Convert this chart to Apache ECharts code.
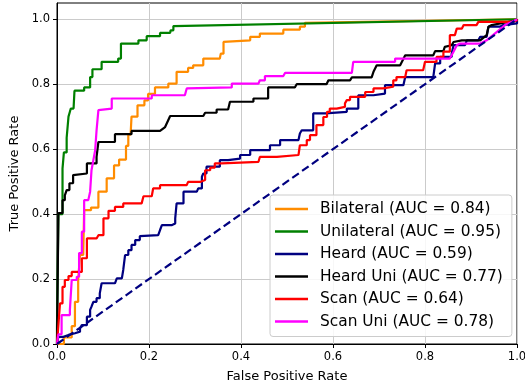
<!DOCTYPE html>
<html><head><meta charset="utf-8">
<script src="https://cdn.jsdelivr.net/npm/echarts@6/dist/echarts.min.js"></script>
<style>html,body{margin:0;padding:0;background:#fff}#c{width:525px;height:385px}</style>
</head><body><div id="c"></div>
<script>
// ---- data ----
const seriesLabels = ['Bilateral', 'Unilateral', 'Heard', 'Heard Uni', 'Scan', 'Scan Uni'];
const aucValues = ['0.84', '0.95', '0.59', '0.77', '0.64', '0.78'];
const xTicks = [0, 0.2, 0.4, 0.6, 0.8, 1.0];
const yTicks = [0, 0.2, 0.4, 0.6, 0.8, 1.0];

const bilateral = [[0,0],[0.015,0],[0.015,0.02],[0.032,0.02],[0.032,0.055],[0.039,0.055],[0.039,0.13],[0.046,0.13],[0.046,0.197],[0.05,0.197],[0.05,0.274],[0.057,0.274],[0.059,0.412],[0.074,0.412],[0.074,0.42],[0.09,0.42],[0.09,0.469],[0.108,0.469],[0.108,0.51],[0.124,0.51],[0.124,0.55],[0.135,0.55],[0.135,0.568],[0.150,0.568],[0.150,0.61],[0.155,0.61],[0.155,0.645],[0.160,0.645],[0.162,0.70],[0.175,0.70],[0.175,0.735],[0.184,0.735],[0.19,0.735],[0.19,0.75],[0.198,0.75],[0.198,0.77],[0.213,0.77],[0.213,0.79],[0.242,0.79],[0.242,0.802],[0.26,0.802],[0.26,0.838],[0.285,0.838],[0.285,0.85],[0.296,0.85],[0.296,0.858],[0.318,0.858],[0.318,0.879],[0.354,0.879],[0.356,0.894],[0.362,0.894],[0.362,0.93],[0.365,0.935],[0.42,0.935],[0.42,0.946],[0.441,0.946],[0.441,0.956],[0.492,0.956],[0.492,0.968],[0.528,0.968],[0.528,0.977],[0.539,0.977],[0.539,0.989],[1,1]];

const unilateral = [[0,0],[0,0.05],[0.003,0.05],[0.003,0.40],[0.012,0.40],[0.012,0.54],[0.015,0.54],[0.015,0.59],[0.021,0.59],[0.021,0.635],[0.025,0.635],[0.025,0.70],[0.028,0.70],[0.028,0.715],[0.030,0.715],[0.030,0.725],[0.036,0.725],[0.038,0.78],[0.059,0.78],[0.059,0.79],[0.072,0.79],[0.072,0.822],[0.077,0.822],[0.077,0.846],[0.097,0.846],[0.097,0.869],[0.133,0.869],[0.133,0.879],[0.139,0.879],[0.139,0.925],[0.177,0.925],[0.177,0.935],[0.195,0.935],[0.195,0.948],[0.224,0.948],[0.224,0.958],[0.246,0.958],[0.247,0.966],[0.253,0.966],[0.253,0.979],[1,1]];

const heard = [[0,0],[0.003,0],[0.003,0.022],[0.014,0.022],[0.014,0.028],[0.025,0.028],[0.025,0.033],[0.039,0.033],[0.039,0.038],[0.05,0.048],[0.054,0.058],[0.065,0.084],[0.068,0.084],[0.072,0.105],[0.075,0.115],[0.079,0.13],[0.086,0.141],[0.093,0.156],[0.097,0.187],[0.126,0.192],[0.13,0.202],[0.141,0.207],[0.144,0.228],[0.148,0.274],[0.155,0.289],[0.162,0.305],[0.17,0.32],[0.18,0.332],[0.184,0.335],[0.22,0.341],[0.224,0.351],[0.228,0.366],[0.249,0.371],[0.257,0.387],[0.26,0.433],[0.275,0.469],[0.304,0.469],[0.307,0.479],[0.315,0.515],[0.318,0.525],[0.325,0.546],[0.354,0.566],[0.372,0.571],[0.398,0.582],[0.42,0.597],[0.463,0.612],[0.485,0.628],[0.525,0.628],[0.528,0.648],[0.532,0.658],[0.557,0.658],[0.557,0.71],[0.583,0.715],[0.63,0.725],[0.655,0.746],[0.655,0.766],[0.688,0.771],[0.713,0.797],[0.753,0.797],[0.757,0.822],[0.818,0.822],[0.822,0.864],[0.833,0.884],[0.858,0.894],[0.862,0.92],[0.887,0.925],[0.891,0.935],[0.916,0.935],[0.92,0.946],[0.934,0.948],[0.938,0.977],[0.963,0.982],[0.97,0.987],[1,1]];

const heardUni = [[0,0],[0.003,0],[0.003,0.403],[0.012,0.403],[0.012,0.443],[0.017,0.443],[0.017,0.458],[0.021,0.458],[0.021,0.474],[0.027,0.474],[0.027,0.495],[0.035,0.495],[0.035,0.52],[0.039,0.52],[0.039,0.525],[0.065,0.525],[0.065,0.556],[0.086,0.556],[0.086,0.576],[0.09,0.576],[0.09,0.622],[0.126,0.622],[0.126,0.646],[0.162,0.646],[0.162,0.656],[0.224,0.656],[0.235,0.668],[0.246,0.702],[0.318,0.702],[0.322,0.712],[0.347,0.712],[0.347,0.722],[0.372,0.722],[0.376,0.746],[0.427,0.746],[0.427,0.756],[0.459,0.756],[0.459,0.79],[0.517,0.79],[0.521,0.80],[0.586,0.80],[0.59,0.812],[0.637,0.812],[0.641,0.821],[0.684,0.821],[0.688,0.838],[0.695,0.858],[0.746,0.858],[0.757,0.889],[0.818,0.889],[0.822,0.902],[0.84,0.902],[0.843,0.915],[0.858,0.92],[0.862,0.93],[0.88,0.935],[0.92,0.935],[0.934,0.951],[0.938,0.977],[0.945,0.982],[0.948,0.987],[0.999,0.997],[1,1]];

const scan = [[0,0],[0.003,0],[0.003,0.058],[0.0065,0.058],[0.0065,0.125],[0.012,0.125],[0.012,0.176],[0.017,0.197],[0.025,0.209],[0.032,0.222],[0.054,0.222],[0.054,0.264],[0.065,0.269],[0.065,0.325],[0.086,0.325],[0.09,0.335],[0.101,0.341],[0.101,0.387],[0.112,0.41],[0.126,0.422],[0.144,0.433],[0.184,0.433],[0.188,0.455],[0.206,0.458],[0.209,0.479],[0.224,0.489],[0.282,0.489],[0.285,0.499],[0.311,0.505],[0.322,0.535],[0.333,0.543],[0.343,0.556],[0.358,0.561],[0.438,0.561],[0.441,0.576],[0.478,0.576],[0.481,0.582],[0.525,0.582],[0.528,0.612],[0.543,0.628],[0.55,0.643],[0.564,0.674],[0.579,0.699],[0.587,0.715],[0.593,0.725],[0.608,0.73],[0.626,0.741],[0.63,0.751],[0.637,0.761],[0.67,0.776],[0.688,0.787],[0.709,0.792],[0.731,0.812],[0.738,0.822],[0.757,0.828],[0.76,0.843],[0.796,0.848],[0.80,0.869],[0.818,0.869],[0.825,0.884],[0.833,0.884],[0.84,0.90],[0.854,0.915],[0.854,0.951],[0.865,0.956],[0.869,0.971],[0.88,0.977],[0.884,0.982],[0.912,0.987],[0.916,0.992],[0.948,0.992],[0.992,0.997],[1,1]];

const scanUni = [[0,0],[0.003,0],[0.003,0.03],[0.01,0.03],[0.01,0.089],[0.028,0.089],[0.028,0.105],[0.032,0.105],[0.032,0.197],[0.043,0.197],[0.043,0.207],[0.048,0.207],[0.048,0.28],[0.054,0.28],[0.054,0.346],[0.059,0.346],[0.059,0.443],[0.068,0.443],[0.072,0.469],[0.075,0.474],[0.075,0.535],[0.079,0.535],[0.079,0.566],[0.083,0.566],[0.083,0.597],[0.086,0.597],[0.086,0.658],[0.09,0.658],[0.09,0.72],[0.093,0.72],[0.093,0.725],[0.119,0.725],[0.119,0.756],[0.206,0.756],[0.206,0.766],[0.278,0.766],[0.282,0.787],[0.38,0.79],[0.38,0.802],[0.438,0.802],[0.441,0.812],[0.452,0.812],[0.452,0.825],[0.492,0.825],[0.496,0.835],[0.641,0.835],[0.644,0.869],[0.735,0.869],[0.735,0.879],[0.854,0.879],[0.862,0.90],[0.869,0.92],[0.876,0.925],[0.92,0.925],[0.934,0.935],[0.974,0.982],[0.985,0.989],[1,1]];

const chance = [[0,0],[1,1]];

// ---- styling ----
const colors = ['#FF8C00', '#008000', '#000080', '#000000', '#FF0000', '#FF00FF'];
const stepMode = [false, false, 'end', false, 'end', false];
const curves = [bilateral, unilateral, heard, heardUni, scan, scanUni];
const FONT = 'DejaVu Sans';

const names = seriesLabels.map((s, i) => s + ' (AUC = ' + aucValues[i] + ')');

const series = curves.map((d, i) => ({
  name: names[i],
  type: 'line',
  data: d,
  step: stepMode[i],
  symbol: 'none',
  showSymbol: false,
  lineStyle: { color: colors[i], width: 2.2 },
  itemStyle: { color: colors[i] },
  z: 2 + i,
  silent: true
}));
series.push({
  name: 'chance',
  type: 'line',
  data: chance,
  symbol: 'none',
  lineStyle: { color: '#000080', width: 2.2, type: [8, 4] },
  z: 10,
  silent: true
});

const chart = echarts.init(document.getElementById('c'), null, { renderer: 'canvas' });
chart.setOption({
  animation: false,
  backgroundColor: '#fff',
  textStyle: { fontFamily: FONT },
  grid: { left: 57, right: 8, top: 3, bottom: 41, outerBoundsMode: 'none', containLabel: false,
    show: true, borderColor: '#000', borderWidth: 1, backgroundColor: 'transparent' },
  xAxis: {
    type: 'value', min: 0, max: 1, interval: 0.2,
    name: 'False Positive Rate', nameLocation: 'middle', nameGap: 26,
    nameTextStyle: { fontFamily: FONT, fontSize: 13, color: '#000' },
    axisLine: { show: true, lineStyle: { color: '#000', width: 1 } },
    axisTick: { show: true, length: 4, lineStyle: { color: '#000' }, customValues: xTicks },
    axisLabel: { fontFamily: FONT, fontSize: 11.5, color: '#000', margin: 7, customValues: xTicks,
      formatter: v => v.toFixed(1) },
    splitLine: { show: true, lineStyle: { color: '#cbcbcb', width: 1 } }
  },
  yAxis: {
    type: 'value', min: 0, max: 1.05, interval: 0.2,
    name: 'True Positive Rate', nameLocation: 'middle', nameGap: 33,
    nameTextStyle: { fontFamily: FONT, fontSize: 13, color: '#000' },
    axisLine: { show: true, lineStyle: { color: '#000', width: 1 } },
    axisTick: { show: true, length: 4, lineStyle: { color: '#000' }, customValues: yTicks },
    axisLabel: { fontFamily: FONT, fontSize: 11.5, color: '#000', margin: 7, customValues: yTicks,
      formatter: v => (v > 1.001 ? '' : v.toFixed(1)) },
    splitLine: { show: true, lineStyle: { color: '#cbcbcb', width: 1 } }
  },
  legend: {
    data: names,
    orient: 'vertical',
    left: 270, top: 195,
    padding: [6.5, 9, 7.5, 5],
    itemWidth: 33, itemHeight: 2.5,
    itemGap: 7.5,
    icon: 'rect',
    backgroundColor: 'rgba(255,255,255,0.85)',
    borderColor: '#cccccc', borderWidth: 1, borderRadius: 3,
    textStyle: { fontFamily: FONT, fontSize: 15.4, color: '#000', lineHeight: 15, padding: [0, 0, 0, 7] },
    selectedMode: false
  },
  series: series
});
</script>
</body></html>
